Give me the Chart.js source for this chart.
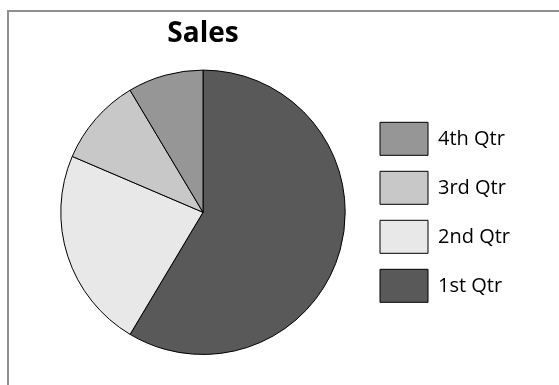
<!DOCTYPE html>
<html>
<head>
<meta charset="utf-8">
<script src="https://cdn.jsdelivr.net/npm/chart.js@4/dist/chart.umd.min.js"></script>
<style>
  html, body { margin: 0; padding: 0; background: #fff; overflow: hidden; }
  #frame { position: absolute; left: 7px; top: 10px; width: 600px; height: 420px;
           border-top: 2px solid #909090; border-left: 2px solid #909090; }
  #salesChart { position: absolute; left: 0; top: 0; }
</style>
</head>
<body>
<div id="frame"></div>
<canvas id="salesChart" width="559" height="385"></canvas>
<script>
// chart data
var quarters = ['1st Qtr', '2nd Qtr', '3rd Qtr', '4th Qtr'];
var sales = [8.2, 3.2, 1.4, 1.2];
var sliceColors = ['#595959', '#e8e8e8', '#c8c8c8', '#969696'];

var ctx = document.getElementById('salesChart').getContext('2d');
var chart = new Chart(ctx, {
    type: 'pie',
    data: {
        labels: quarters,
        datasets: [{
            label: 'Sales',
            data: sales,
            backgroundColor: sliceColors,
            borderColor: '#000',
            borderWidth: 1
        }]
    },
    options: {
        responsive: false,
        animation: false,
        layout: {
            padding: { left: 42, right: 39, top: 10, bottom: 30 }
        },
        plugins: {
            title: {
                display: true,
                text: 'Sales',
                fullSize: false,
                color: '#000',
                font: { family: 'Open Sans', size: 28, weight: 'bold' },
                padding: { top: 7, bottom: 19 }
            },
            legend: {
                position: 'right',
                fullSize: false,
                reverse: true,
                labels: {
                    boxWidth: 48,
                    boxHeight: 33,
                    padding: 16,
                    color: '#000',
                    font: { family: 'Open Sans', size: 20 }
                }
            },
            tooltip: { enabled: false }
        }
    }
});
</script>
</body>
</html>
